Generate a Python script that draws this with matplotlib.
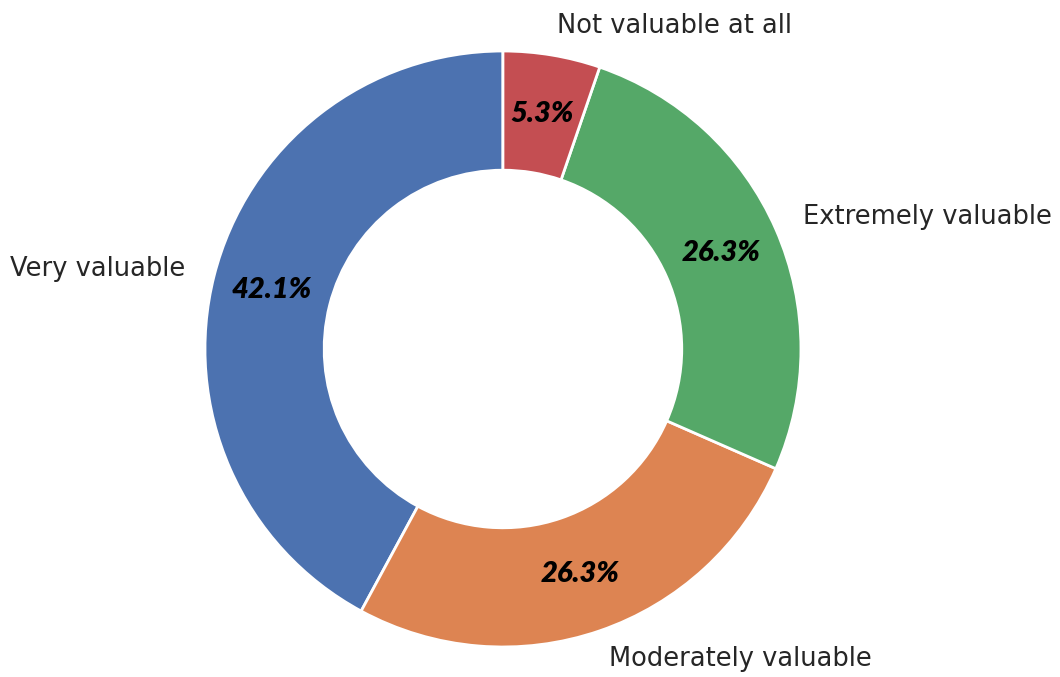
import matplotlib.pyplot as plt

labels = ["Very valuable", "Moderately valuable", "Extremely valuable", "Not valuable at all"]
counts = [8, 5, 5, 1]
colors = ["#4c72b0", "#dd8452", "#55a868", "#c44e52"]

fig = plt.figure(figsize=(10.6, 6.77), dpi=100)
ax = fig.add_axes([0.1231, -0.0657, 0.7028, 1.1004])

wedges, texts, autotexts = ax.pie(
    counts, labels=labels, colors=colors, startangle=90,
    autopct="%1.1f%%", pctdistance=0.8, labeldistance=1.1,
    wedgeprops=dict(width=0.4, edgecolor="white", linewidth=2),
    textprops=dict(fontsize=18.5, color="#262626"),
)
for t in autotexts:
    t.set_fontfamily("Lato")
    t.set_fontweight("heavy")
    t.set_fontstyle("italic")
    t.set_color("black")
    t.set_fontsize(21)

ax.set_aspect("auto")
ax.set_xlim(-1.25, 1.25)
ax.set_ylim(-1.25, 1.25)

plt.savefig("out.png", dpi=100)
